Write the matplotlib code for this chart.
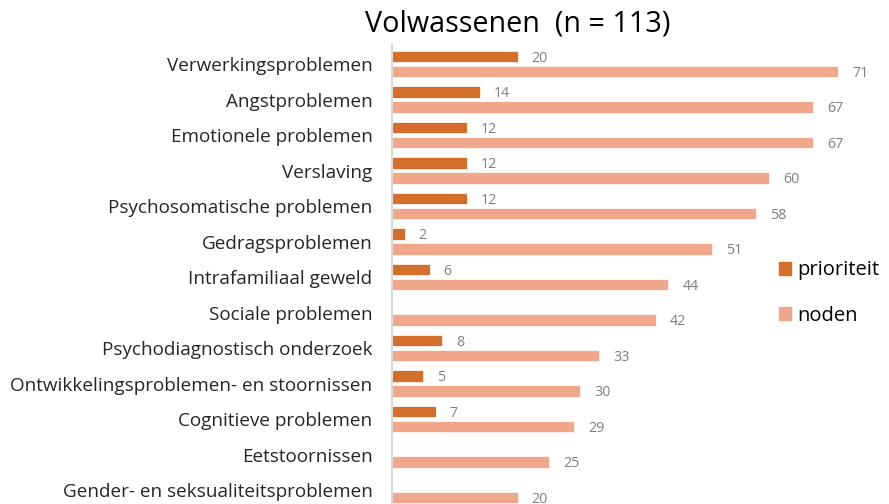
import numpy as np
import matplotlib.pyplot as plt
from matplotlib.patches import Patch

plt.rcParams['font.family'] = ['Open Sans', 'DejaVu Sans']

categories = ['Verwerkingsproblemen', 'Angstproblemen', 'Emotionele problemen',
              'Verslaving', 'Psychosomatische problemen', 'Gedragsproblemen',
              'Intrafamiliaal geweld', 'Sociale problemen', 'Psychodiagnostisch onderzoek',
              'Ontwikkelingsproblemen- en stoornissen', 'Cognitieve problemen',
              'Eetstoornissen', 'Gender- en seksualiteitsproblemen']
prioriteit = [20, 14, 12, 12, 12, 2, 6, np.nan, 8, 5, 7, np.nan, np.nan]
noden = [71, 67, 67, 60, 58, 51, 44, 42, 33, 30, 29, 25, 20]

c_prio = '#D46F2B'
c_noden = '#F1A78A'
c_label = '#7F7F7F'

fig = plt.figure(figsize=(8.89, 5.04), dpi=100)
ax = fig.add_axes([392 / 889, 0.0, 480 / 889, (504 - 45) / 504])

y = np.arange(len(categories))
h = 0.32
off = 0.21
ax.barh(y - off, prioriteit, height=h, color=c_prio, edgecolor='white', linewidth=0.5)
ax.barh(y + off, noden, height=h, color=c_noden, edgecolor='white', linewidth=0.5)

for i in range(len(categories)):
    if not np.isnan(prioriteit[i]):
        ax.text(prioriteit[i] + 2.2, y[i] - off + 0.05, str(int(prioriteit[i])),
                va='center', ha='left', fontsize=10.3, color=c_label)
    ax.text(noden[i] + 2.2, y[i] + off + 0.05, str(noden[i]),
            va='center', ha='left', fontsize=10.3, color=c_label, clip_on=False)

ax.set_xlim(0, 76.4)
ax.set_ylim(12.39, -0.535)
ax.set_yticks(y)
ax.set_yticklabels(categories, fontsize=13.6, color='#262626')
ax.tick_params(axis='y', length=0, pad=14)
ax.set_xticks([])
for s in ['top', 'right', 'bottom']:
    ax.spines[s].set_visible(False)
ax.spines['left'].set_color('#D9D9D9')
ax.spines['left'].set_linewidth(1.5)

fig.text(518 / 889, 1 - 24 / 504, 'Volwassenen  (n = 113)', ha='center', va='center',
         fontsize=20.7, color='#000000')

handles = [Patch(color=c_prio, label='prioriteit'), Patch(color=c_noden, label='noden')]
fig.legend(handles=handles, loc='center left', bbox_to_anchor=(779 / 889, 1 - 293 / 504),
           frameon=False, fontsize=14.5, handlelength=0.6, handleheight=0.6,
           handletextpad=0.3, labelspacing=1.25, borderpad=0, borderaxespad=0)

fig.savefig('out.png', dpi=100)
